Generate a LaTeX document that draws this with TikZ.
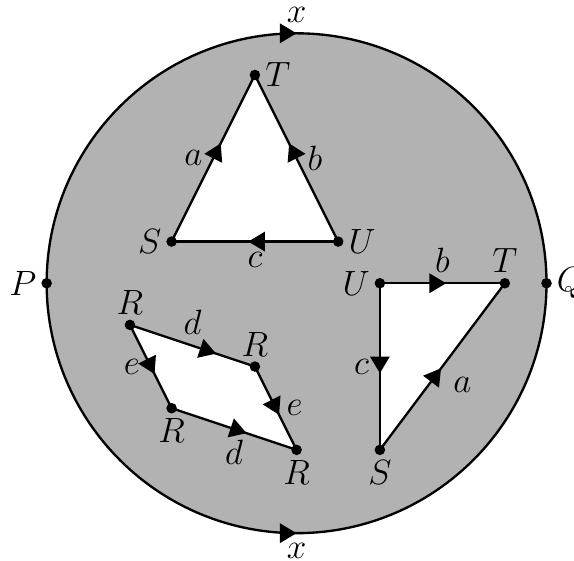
\documentclass[tikz,border=0pt]{standalone}
\usetikzlibrary{decorations.markings,arrows.meta}
\begin{document}
\begin{tikzpicture}[
  font=\fontsize{12}{14}\selectfont,
  edge/.style={line width=0.8pt},
  arr/.style={postaction={decorate},decoration={markings,mark=at position #1 with {\arrow{Triangle[length=5.7pt,width=6.6pt]}}}},
  dot/.style={fill=black},
  lbl/.style={}
]
\useasboundingbox (-3.56,-3.325) rectangle (3.33,3.40);
% outer disc
\coordinate (P) at (-3,0);
\coordinate (Q) at (3,0);
\fill[black!30] (0,0) circle (3);
\draw[edge,arr=0.5] (P) arc[start angle=180,end angle=0,radius=3];
\draw[edge,arr=0.5] (P) arc[start angle=180,end angle=360,radius=3];
\node[lbl,above] (xt) at (0,3) {$x$};
\node[lbl,below] (xb) at (0,-3) {$x$};
\node[lbl,left] (lP) at (P) {$P$};
\node[lbl,right] (lQ) at (Q) {$Q$};

% triangle 1
\coordinate (T1) at (-0.5,2.5);
\coordinate (S1) at (-1.5,0.5);
\coordinate (U1) at (0.5,0.5);
\fill[white] (T1) -- (S1) -- (U1) -- cycle;
\draw[edge,arr=0.59] (S1) -- node[lbl,left,pos=0.5] (la1) {$a$} (T1);
\draw[edge,arr=0.59] (U1) -- node[lbl,right,pos=0.5] (lb1) {$b$} (T1);
\draw[edge,arr=0.54] (U1) -- node[lbl,below,pos=0.5] (lc1) {$c$} (S1);
\node[lbl,right] (lT1) at (T1) {$T$};
\node[lbl,left] (lS1) at (S1) {$S$};
\node[lbl,right] (lU1) at (U1) {$U$};

% triangle 2
\coordinate (U2) at (1,0);
\coordinate (T2) at (2.5,0);
\coordinate (S2) at (1,-2);
\fill[white] (U2) -- (T2) -- (S2) -- cycle;
\draw[edge,arr=0.53] (U2) -- node[lbl,above,pos=0.5] (lb2) {$b$} (T2);
\draw[edge,arr=0.54] (U2) -- node[lbl,left,pos=0.5] (lc2) {$c$} (S2);
\draw[edge,arr=0.49] (S2) -- node[lbl,below right,pos=0.5] (la2) {$a$} (T2);
\node[lbl,left] (lU2) at (U2) {$U$};
\node[lbl,above] (lT2) at (T2) {$T$};
\node[lbl,below] (lS2) at (S2) {$S$};

% parallelogram
\coordinate (R1) at (-2,-0.5);
\coordinate (R2) at (-0.5,-1);
\coordinate (R3) at (-1.5,-1.5);
\coordinate (R4) at (0,-2);
\fill[white] (R1) -- (R2) -- (R4) -- (R3) -- cycle;
\draw[edge,arr=0.69] (R1) -- node[lbl,above,pos=0.5] (ld1) {$d$} (R2);
\draw[edge,arr=0.60] (R3) -- node[lbl,below,pos=0.5] (ld2) {$d$} (R4);
\draw[edge,arr=0.59] (R1) -- node[lbl,left,pos=0.5] (le1) {$e$} (R3);
\draw[edge,arr=0.58] (R2) -- node[lbl,right,pos=0.5] (le2) {$e$} (R4);
\node[lbl,above] (lR1) at (R1) {$R$};
\node[lbl,above] (lR2) at (R2) {$R$};
\node[lbl,below] (lR3) at (R3) {$R$};
\node[lbl,below] (lR4) at (R4) {$R$};

% dots
\foreach \p in {P,Q,T1,S1,U1,U2,T2,S2,R1,R2,R3,R4}
  \fill[dot] (\p) circle (1.8pt);
\end{tikzpicture}
\end{document}
